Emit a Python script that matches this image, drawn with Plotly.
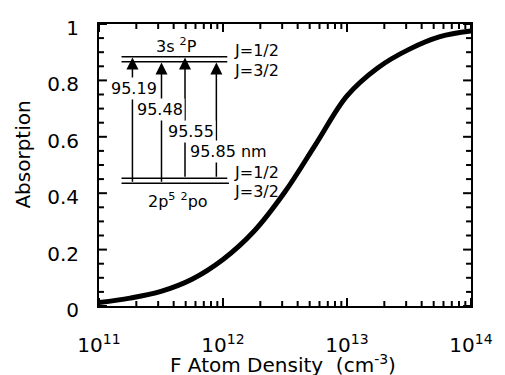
import math
import plotly.graph_objects as go

# ---- data ----
log_density = [11.0, 11.25, 11.5, 11.75, 12.0, 12.25, 12.5, 12.75, 13.0, 13.25, 13.5, 13.75, 14.0]
absorption = [0.012, 0.028, 0.052, 0.095, 0.165, 0.265, 0.405, 0.575, 0.745, 0.845, 0.91, 0.955, 0.975]
density = [10 ** v for v in log_density]

x_range = [11, 14]
x_tickvals = [1e11, 1e12, 1e13, 1e14]
x_ticktext = ["10<sup>11</sup>", "10<sup>12</sup>", "10<sup>13</sup>", "10<sup>14</sup>"]
x_minor = [m * 10 ** e for e in (11, 12, 13) for m in range(2, 10)]
y_tickvals = [0, 0.2, 0.4, 0.6, 0.8, 1]
y_ticktext = ["0", "0.2", "0.4", "0.6", "0.8", "1"]
y_minor = [i * 0.05 for i in range(21) if i % 4]

wavelengths = ["95.19", "95.48", "95.55", "95.85 nm"]

FONT = "DejaVu Sans"

fig = go.Figure()
fig.add_trace(go.Scatter(x=density, y=absorption, mode="lines",
                         line=dict(color="black", width=5, shape="spline", smoothing=1.0),
                         showlegend=False, hoverinfo="skip"))

W, H = 505, 375
L, R, T, B = 99, 31, 24, 69
PW, PH = W - L - R, H - T - B


def px(x):
    return (x - L) / PW


def py(y):
    return (H - B - y) / PH


def xfrac(v):
    return (math.log10(v) - x_range[0]) / (x_range[1] - x_range[0])


shapes = []
# inside tick marks on all four sides
TK = dict(color="black", width=2)
for vals, ln in ((x_tickvals, 8), (x_minor, 5)):
    for v in vals:
        f = xfrac(v)
        shapes.append(dict(type="line", xref="paper", yref="paper",
                           x0=f, x1=f, y0=0, y1=ln / PH, line=TK))
        shapes.append(dict(type="line", xref="paper", yref="paper",
                           x0=f, x1=f, y0=1, y1=1 - ln / PH, line=TK))
for vals, ln in ((y_tickvals, 8), (y_minor, 5)):
    for v in vals:
        shapes.append(dict(type="line", xref="paper", yref="paper",
                           y0=v, y1=v, x0=0, x1=ln / PW, line=TK))
        shapes.append(dict(type="line", xref="paper", yref="paper",
                           y0=v, y1=v, x0=1, x1=1 - ln / PW, line=TK))

# energy levels
for y0, xa, xb in [(56.7, 121.7, 228.3), (61.7, 121.7, 228.3), (178.3, 121.7, 228.3), (183.3, 121.7, 230)]:
    shapes.append(dict(type="line", xref="paper", yref="paper", x0=px(xa), x1=px(xb),
                       y0=py(y0), y1=py(y0), line=dict(color="black", width=1.5)))

annotations = []
arrows = [(132.7, 57.5, 183.3), (162.0, 62.5, 183.3), (185.7, 57.5, 178.3), (217.3, 62.5, 178.3)]
for xa, ty, by in arrows:
    annotations.append(dict(xref="paper", yref="paper", axref="pixel", ayref="pixel",
                            x=px(xa), y=py(ty), ax=0, ay=by - ty, text="",
                            showarrow=True, arrowhead=2, arrowsize=1.6, arrowwidth=1.5,
                            arrowcolor="black", standoff=0, startstandoff=0))

label_pos = [(134.7, 88.5), (160.0, 109.3), (192.0, 131.7), (229.2, 151.7)]
for txt, (xc, yc) in zip(wavelengths, label_pos):
    annotations.append(dict(xref="paper", yref="paper", x=px(xc), y=py(yc), text=txt,
                            showarrow=False, bgcolor="white", borderpad=1,
                            font=dict(family=FONT, size=16, color="black"),
                            xanchor="center", yanchor="middle"))

level_labels = [("3s <sup>2</sup>P", 176.7, 45, "center"),
                ("J=1/2", 233, 51, "left"), ("J=3/2", 233, 70, "left"),
                ("J=1/2", 233, 172.3, "left"), ("J=3/2", 233, 191.7, "left"),
                ("2p<sup>5</sup> <sup>2</sup>po", 178.3, 200, "center")]
for txt, xc, yc, anc in level_labels:
    annotations.append(dict(xref="paper", yref="paper", x=px(xc), y=py(yc), text=txt,
                            showarrow=False, font=dict(family=FONT, size=16, color="black"),
                            xanchor=anc, yanchor="middle"))

# axis titles
annotations.append(dict(xref="paper", yref="paper", x=px(22), y=py(155), text="Absorption",
                        textangle=-90, showarrow=False, xanchor="center", yanchor="middle",
                        font=dict(family=FONT, size=20, color="black")))
annotations.append(dict(xref="paper", yref="paper", x=px(284), y=py(364),
                        text="F Atom Density  (cm<sup>-3</sup>)",
                        showarrow=False, xanchor="center", yanchor="middle",
                        font=dict(family=FONT, size=20, color="black")))

fig.update_layout(
    width=W, height=H,
    margin=dict(l=L, r=R, t=T, b=B, pad=0),
    paper_bgcolor="white", plot_bgcolor="white",
    font=dict(family=FONT, size=20, color="black"),
    shapes=shapes, annotations=annotations,
    showlegend=False,
)

fig.update_xaxes(type="log", range=x_range,
                 tickmode="array", tickvals=x_tickvals, ticktext=x_ticktext,
                 ticks="",
                 showline=True, linewidth=2, linecolor="black", mirror=True,
                 showgrid=False, zeroline=False, ticklabelstandoff=20,
                 tickfont=dict(family=FONT, size=20))

fig.update_yaxes(range=[0, 1],
                 tickmode="array", tickvals=y_tickvals, ticktext=y_ticktext,
                 ticks="",
                 showline=True, linewidth=2, linecolor="black", mirror=True,
                 showgrid=False, zeroline=False, ticklabelstandoff=14, ticklabelshift=4,
                 tickfont=dict(family=FONT, size=20))

fig.write_html("out.html")
